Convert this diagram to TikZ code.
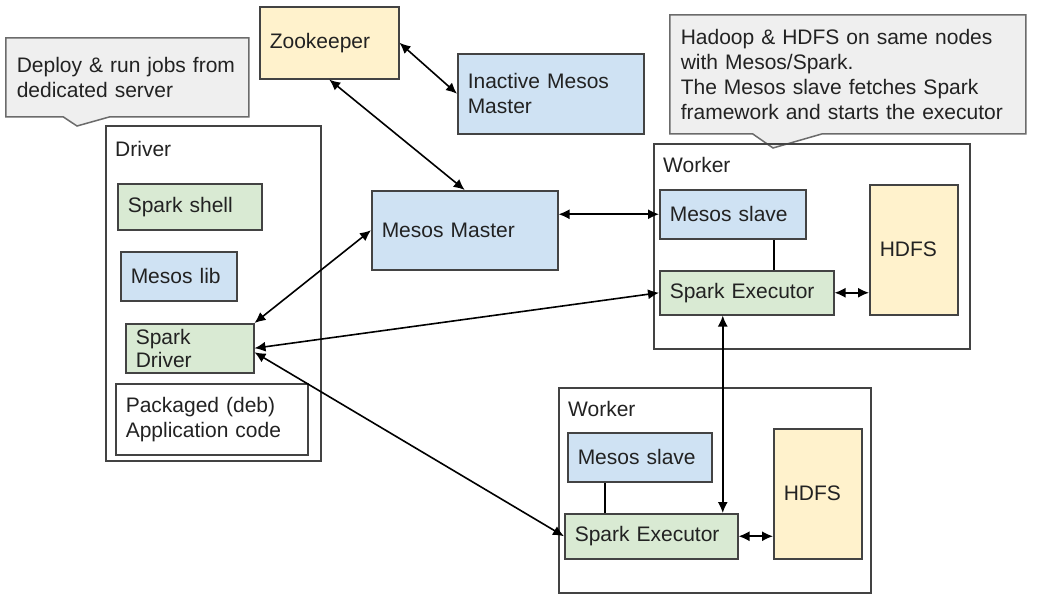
\documentclass[tikz,border=0pt]{standalone}
\usepackage{fontspec}
\setmainfont{Liberation Sans}
\usetikzlibrary{arrows.meta,shapes.callouts}
\definecolor{mblue}{HTML}{CFE2F3}
\definecolor{mgreen}{HTML}{D9EAD3}
\definecolor{myellow}{HTML}{FFF2CC}
\definecolor{callgray}{HTML}{EFEFEF}
\definecolor{notegray}{HTML}{6B6B6B}
\definecolor{edge}{HTML}{434343}
\definecolor{txt}{HTML}{222222}
\tikzset{
  box/.style={draw=edge, line width=1.5pt, anchor=north west, inner xsep=10pt, inner ysep=0pt, align=left, text=txt},
  frame/.style={draw=edge, line width=1.5pt, anchor=north west, inner sep=0pt},
  tag/.style={anchor=west, inner sep=0pt, text=txt},
  note/.style={rectangle callout, draw=notegray, fill=callgray, line width=1.5pt, anchor=north west, inner xsep=11pt, inner ysep=0pt, align=left, text=txt},
  link/.style={{Latex[length=11pt,width=10pt]}-{Latex[length=11pt,width=10pt]}, line width=1.6pt},
}
\begin{document}
\begin{tikzpicture}[x=1pt,y=-1pt,font=\fontsize{21}{25}\selectfont]
        \fill [white] (0,0) rectangle (1047,597);
        \useasboundingbox (0,0) rectangle (1047,597);
        % Notes
        \node [note, text width=221pt, minimum height=79pt, callout pointer width=47pt, callout absolute pointer={(77,126)}] (deploy) at (5,37) {Deploy \& run jobs from\\dedicated server};
        \node [note, text width=334pt, minimum height=119pt, callout pointer width=70pt, callout absolute pointer={(773,148)}] (hadoop) at (669,14) {Hadoop \& HDFS on same nodes\\with Mesos/Spark.\\The Mesos slave fetches Spark\\framework and starts the executor};
        % Masters
        \node [box, fill=myellow, text width=119pt, minimum height=72pt] (zk) at (259,6) {Zookeeper};
        \node [box, fill=mblue, text width=166pt, minimum height=80pt] (inactive) at (457,53) {Inactive Mesos\\Master};
        \node [box, fill=mblue, text width=166pt, minimum height=79pt] (master) at (371,190) {Mesos Master};
        % Driver
        \node [frame, minimum width=215pt, minimum height=335pt] (driver) at (105,125) {};
        \node [tag] at (115,149) {Driver};
        \node [box, fill=mgreen, text width=124pt, minimum height=46pt] (shell) at (117,183) {Spark shell};
        \node [box, fill=mblue, text width=96pt, minimum height=49pt] (meslib) at (120,251) {Mesos lib};
        \node [box, fill=mgreen, text width=108pt, minimum height=49pt, font=\fontsize{21}{23}\selectfont] (sdrv) at (125,323) {Spark\\Driver};
        \node [box, fill=white, text width=172pt, minimum height=71pt] (pkg) at (115,383) {Packaged (deb)\\Application code};
        % Worker 1
        \node [frame, minimum width=316pt, minimum height=205pt] (worker1) at (653,143) {};
        \node [tag] at (663,165) {Worker};
        \node [box, fill=mblue, text width=126pt, minimum height=49pt] (slave1) at (659,189) {Mesos slave};
        \node [box, fill=mgreen, text width=154pt, minimum height=44pt] (exec1) at (659,270) {Spark Executor};
        \node [box, fill=myellow, text width=68pt, minimum height=130pt] (hdfs1) at (869,184) {HDFS};
        % Worker 2
        \node [frame, minimum width=312pt, minimum height=205pt] (worker2) at (558,387) {};
        \node [tag] at (568,409) {Worker};
        \node [box, fill=mblue, text width=124pt, minimum height=49pt] (slave2) at (567,432) {Mesos slave};
        \node [box, fill=mgreen, text width=153pt, minimum height=45pt] (exec2) at (564,513) {Spark Executor};
        \node [box, fill=myellow, text width=68pt, minimum height=130pt] (hdfs2) at (773,428) {HDFS};
        % Connectors
        \draw [link] (zk.east) -- (inactive.west);
        \draw [link] (zk.south) -- (master.north);
        \draw [link] (master.east |- slave1.west) -- (slave1.west);
        \draw [link] (master.west) -- (sdrv.north east);
        \draw [link] (sdrv.east) -- (exec1.west);
        \draw [link] ([yshift=-4pt]sdrv.east) -- (exec2.west);
        \draw [link] (exec1.east) -- (exec1.east -| hdfs1.west);
        \draw [link] (exec2.east) -- (exec2.east -| hdfs2.west);
        \draw [link] ([xshift=-24pt]exec1.south) -- ([xshift=-24pt]exec1.south |- exec2.north);
        \draw [line width=1.5pt] ([xshift=27pt]exec1.north) -- ([xshift=27pt]exec1.north |- slave1.south);
        \draw [line width=1.5pt] ([xshift=-46.5pt]exec2.north) -- ([xshift=-46.5pt]exec2.north |- slave2.south);
    \end{tikzpicture}
\end{document}
